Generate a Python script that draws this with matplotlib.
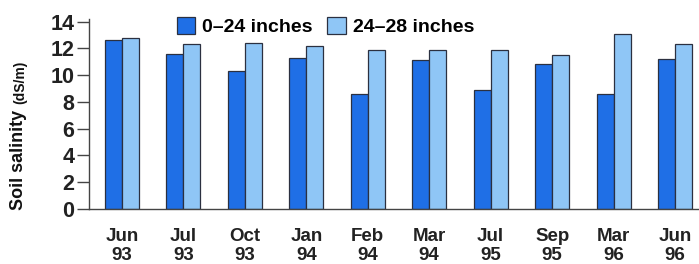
import matplotlib
matplotlib.use("Agg")
import matplotlib.pyplot as plt
import numpy as np
from matplotlib.patches import Patch

plt.rcParams['font.family'] = ['Liberation Sans', 'DejaVu Sans']
plt.rcParams['font.weight'] = 'bold'

categories = ["Jun\n93", "Jul\n93", "Oct\n93", "Jan\n94", "Feb\n94",
              "Mar\n94", "Jul\n95", "Sep\n95", "Mar\n96", "Jun\n96"]
shallow = [12.6, 11.6, 10.3, 11.3, 8.6, 11.1, 8.9, 10.8, 8.6, 11.2]
deep = [12.8, 12.3, 12.4, 12.2, 11.9, 11.9, 11.9, 11.5, 13.1, 12.3]
series_names = ["0\u201324 inches", "24\u201328 inches"]
yticks = [0, 2, 4, 6, 8, 10, 12, 14]

W, H = 699, 264
fig = plt.figure(figsize=(W / 100, H / 100), dpi=100)
ax = fig.add_axes([89 / W, 1 - 209 / H, (W - 89) / W, (209 - 19) / H])

dark = "#1f6fe6"
light = "#8fc6f6"
edge = "#2b3040"
x = np.arange(len(categories))
bw = 0.277
ax.bar(x - bw / 2, shallow, bw, color=dark, edgecolor=edge, linewidth=0.9)
ax.bar(x + bw / 2, deep, bw, color=light, edgecolor=edge, linewidth=0.9)

ax.set_xlim(-0.537, 9.39)
ax.set_ylim(0, 14.2)
ax.set_yticks(yticks)
ax.set_yticklabels([str(t) for t in yticks], fontsize=15.5, fontweight='bold', color='#222222')
ax.set_xticks(x)
ax.set_xticklabels(categories, fontsize=13.5, fontweight='bold', linespacing=1.15, color='#222222')
ax.tick_params(axis='x', length=0, pad=14)
ax.tick_params(axis='y', length=9, width=1, color='#444444', pad=1.5)
for s in ['top', 'right']:
    ax.spines[s].set_visible(False)
for s in ['left', 'bottom']:
    ax.spines[s].set_color('#444444')
    ax.spines[s].set_linewidth(1)

handles = [Patch(facecolor=dark, edgecolor=edge, linewidth=0.9),
           Patch(facecolor=light, edgecolor=edge, linewidth=0.9)]
fig.legend(handles, series_names, loc='upper left', bbox_to_anchor=(177 / W, 1 - 17 / H),
           ncol=2, frameon=False, handlelength=0.95, handleheight=1.0,
           handletextpad=0.35, columnspacing=0.75, borderaxespad=0, borderpad=0,
           prop={'family': 'Liberation Sans', 'weight': 'bold', 'size': 14})

t1 = fig.text(19 / W, 1 - 210 / H, "Soil salinity", rotation=90, ha='center', va='bottom',
              fontsize=13, fontweight='bold', color='#111111')
fig.canvas.draw()
bb = t1.get_window_extent()
t2 = fig.text(20 / W, (bb.y1 + 6) / H, "(dS/m)", rotation=90, ha='center', va='bottom',
              fontsize=10, fontweight='bold', color='#111111')

fig.savefig("out.png", dpi=100)
